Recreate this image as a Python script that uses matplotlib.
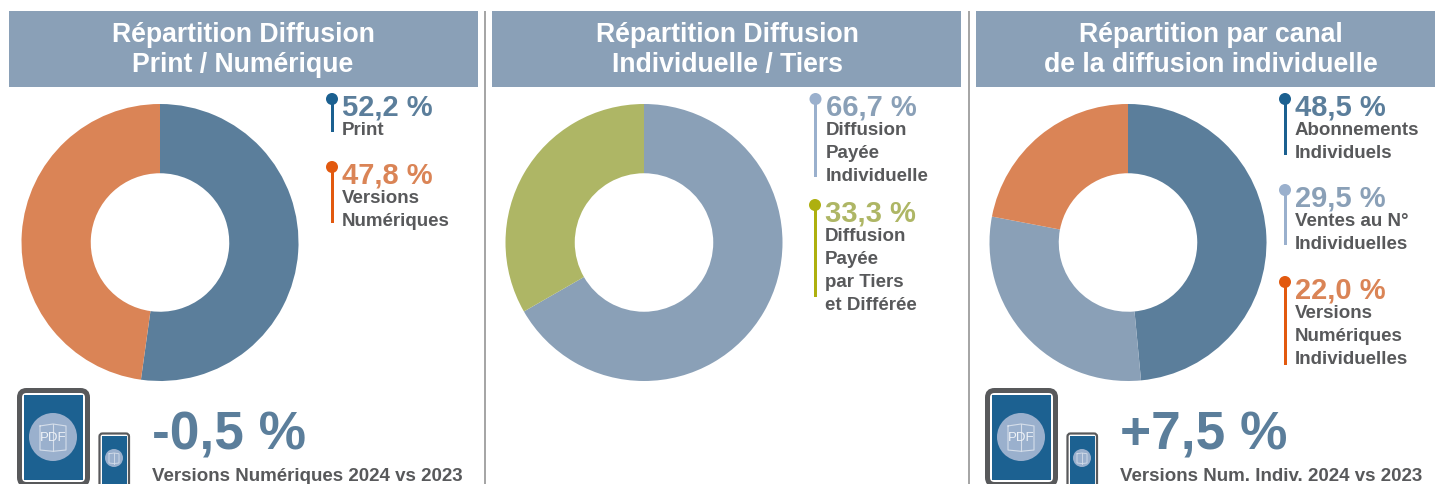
import matplotlib
matplotlib.use("Agg")
import matplotlib.pyplot as plt
from matplotlib.patches import FancyBboxPatch, Circle, Rectangle

plt.rcParams['font.family'] = ['Liberation Sans', 'DejaVu Sans']

W, H = 1435, 485

BLUE = "#5b7e9b"
LIGHT = "#8aa0b7"
ORANGE = "#da8456"
GREEN = "#aeb665"
GREY = "#58595b"
DARKBLUE = "#1b6090"
PALEBLUE = "#9ab0cd"
DEEPORANGE = "#e2590f"
OLIVE = "#aeb00f"

titles = [
    "Répartition Diffusion\nPrint / Numérique",
    "Répartition Diffusion\nIndividuelle / Tiers",
    "Répartition par canal\nde la diffusion individuelle",
]
values1 = [52.2, 47.8]
values2 = [66.7, 33.3]
values3 = [48.5, 29.5, 22.0]
labels1 = ["52,2 %", "47,8 %"]
labels2 = ["66,7 %", "33,3 %"]
labels3 = ["48,5 %", "29,5 %", "22,0 %"]
names1 = ["Print", "Versions\nNumériques"]
names2 = ["Diffusion\nPayée\nIndividuelle", "Diffusion\nPayée\npar Tiers\net Différée"]
names3 = ["Abonnements\nIndividuels", "Ventes au N°\nIndividuelles", "Versions\nNumériques\nIndividuelles"]


def donut(fig, cx, vals, colors):
    cy, r = 243.5, 138.5
    ax = fig.add_axes([(cx - r) / W, 1 - (cy + r) / H, 2 * r / W, 2 * r / H])
    ax.pie(vals, colors=colors, startangle=90, counterclock=False, radius=1,
           wedgeprops=dict(width=0.5, linewidth=0))
    ax.set_xlim(-1, 1)
    ax.set_ylim(-1, 1)
    ax.axis("off")


def legend_item(ax, x, y, bottom, pct, name, col, pin):
    # pin with round head, then the percent and its label
    ax.add_patch(Rectangle((x - 1.5, y), 3, bottom - y, color=pin, lw=0, zorder=3))
    ax.add_patch(Circle((x, y), 6, color=pin, lw=0, zorder=3))
    ax.text(x + 10, y + 15.5, pct, color=col, fontsize=21, fontweight="bold", va="baseline", ha="left")
    for i, line in enumerate(name.split("\n")):
        ax.text(x + 10, y + 34.7 + i * 23, line, color=GREY, fontsize=13.5,
                fontweight="bold", va="baseline", ha="left")


def book(ax, cx, cy, s, text_on):
    # little open book drawn over the round badge
    c = "#d5deea"
    lw = 0.8 if text_on else 0.6
    ax.plot([cx - s, cx - s, cx, cx + s, cx + s, cx, cx - s],
            [cy - s * 0.85, cy + s, cy + s * 1.1, cy + s, cy - s * 0.85, cy - s, cy - s * 0.85],
            color=c, lw=lw, zorder=6)
    ax.plot([cx, cx], [cy - s, cy + s * 1.1], color=c, lw=lw, zorder=6)
    if text_on:
        ax.text(cx, cy, "PDF", color="#eef2f7", fontsize=9.5, ha="center", va="center", zorder=7)


def device(ax, x):
    # tablet
    ax.add_patch(FancyBboxPatch((x + 19.5, 391.5), 68, 94, boxstyle="round,pad=0,rounding_size=7",
                                fc="white", ec=GREY, lw=3.6, zorder=4))
    ax.add_patch(Rectangle((x + 24, 396), 59, 84.5, color="#1c6191", lw=0, zorder=5))
    ax.add_patch(Circle((x + 53, 438), 24, color=PALEBLUE, lw=0, zorder=5))
    book(ax, x + 53, 438, 13, True)
    # phone
    ax.add_patch(FancyBboxPatch((x + 99.5, 434.5), 29.5, 60, boxstyle="round,pad=0,rounding_size=3",
                                fc="white", ec=GREY, lw=1.6, zorder=4))
    ax.add_patch(Rectangle((x + 101.5, 437), 25.5, 48, color="#1c6191", lw=0, zorder=5))
    ax.add_patch(Circle((x + 114, 459), 9, color=PALEBLUE, lw=0, zorder=5))
    book(ax, x + 114, 459, 5, False)


fig = plt.figure(figsize=(W / 100, H / 100), dpi=100, facecolor="white")
ax = fig.add_axes([0, 0, 1, 1], zorder=5)
ax.set_xlim(0, W)
ax.set_ylim(H, 0)
ax.axis("off")

# header bands
for x0, x1 in zip([9, 492, 976], [478, 961, 1445]):
    ax.add_patch(Rectangle((x0, 11.5), x1 - x0, 76, color=LIGHT, lw=0))
for cx, t in zip([243, 727, 1211], titles):
    l1, l2 = t.split("\n")
    ax.text(cx, 42, l1, color="white", fontsize=19.2, fontweight="bold", ha="center", va="baseline")
    ax.text(cx, 72, l2, color="white", fontsize=19.2, fontweight="bold", ha="center", va="baseline")

# separators
for x in [485, 969]:
    ax.add_patch(Rectangle((x - 1, 11.5), 2, H - 11, color="#a6a6a6", lw=0))

donut(fig, 160, values1, [BLUE, ORANGE])
donut(fig, 644, values2, [LIGHT, GREEN])
donut(fig, 1128, values3, [BLUE, LIGHT, ORANGE])

legend_item(ax, 332, 100, 133, labels1[0], names1[0], BLUE, DARKBLUE)
legend_item(ax, 332, 168, 224, labels1[1], names1[1], ORANGE, DEEPORANGE)
legend_item(ax, 815.5, 100, 178, labels2[0], names2[0], LIGHT, PALEBLUE)
legend_item(ax, 815, 206, 298, labels2[1], names2[1], GREEN, OLIVE)
legend_item(ax, 1285, 100, 156, labels3[0], names3[0], BLUE, DARKBLUE)
legend_item(ax, 1285, 191, 246, labels3[1], names3[1], LIGHT, PALEBLUE)
legend_item(ax, 1285, 283, 366, labels3[2], names3[2], ORANGE, DEEPORANGE)

device(ax, 0)
device(ax, 968)

ax.text(152, 450, "-0,5 %", color=BLUE, fontsize=38.3, fontweight="bold", va="baseline", ha="left")
ax.text(152, 481, "Versions Numériques 2024 vs 2023", color=GREY, fontsize=13.5,
        fontweight="bold", va="baseline", ha="left")
ax.text(1120, 450, "+7,5 %", color=BLUE, fontsize=38.3, fontweight="bold", va="baseline", ha="left")
ax.text(1120, 481, "Versions Num. Indiv. 2024 vs 2023", color=GREY, fontsize=13.5,
        fontweight="bold", va="baseline", ha="left")

fig.savefig("out.png", dpi=100)
